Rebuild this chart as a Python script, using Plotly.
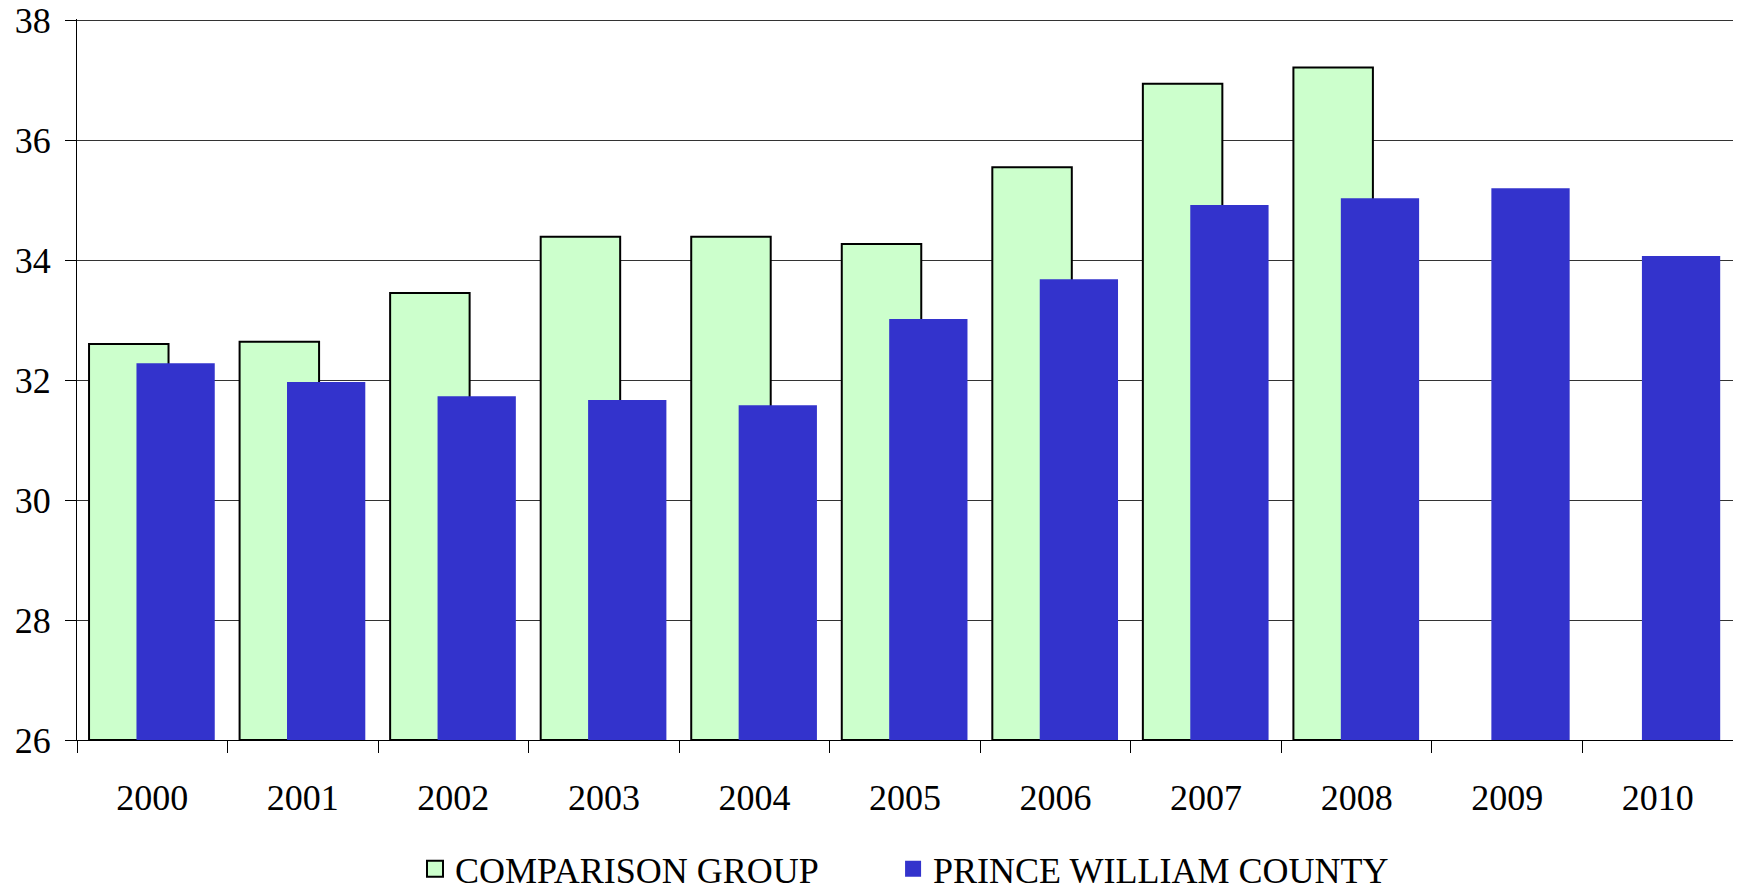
import plotly.graph_objects as go

years = ["2000", "2001", "2002", "2003", "2004", "2005", "2006", "2007", "2008", "2009", "2010"]
comparison_group = [32.6, 32.64, 33.45, 34.39, 34.39, 34.27, 35.55, 36.94, 37.21, None, None]
prince_william = [32.28, 31.97, 31.73, 31.67, 31.58, 33.02, 33.68, 34.92, 35.03, 35.2, 34.07]
series_names = ["COMPARISON GROUP", "PRINCE WILLIAM COUNTY"]
y_base = 26

FONT = "Liberation Serif"
GREEN = "#CCFFCC"
BLUE = "#3333CC"

fig = go.Figure()
fig.add_trace(go.Bar(
    name=series_names[0],
    x=years, y=[None if v is None else v - y_base for v in comparison_group],
    base=y_base,
    offset=-0.42, width=0.528,
    marker=dict(color=GREEN, line=dict(color="#000000", width=2)),
    showlegend=False,
))
fig.add_trace(go.Bar(
    name=series_names[1],
    x=years, y=[v - y_base for v in prince_william],
    base=y_base,
    offset=-0.105, width=0.52,
    marker=dict(color=BLUE, line=dict(width=0)),
    showlegend=False,
))
# legend entries (larger square symbols)
fig.add_trace(go.Scatter(
    name=series_names[0], x=[None], y=[None], mode="markers",
    marker=dict(symbol="square", size=16, color=GREEN, line=dict(color="black", width=2)),
    legend="legend",
))
fig.add_trace(go.Scatter(
    name=series_names[1], x=[None], y=[None], mode="markers",
    marker=dict(symbol="square", size=16, color=BLUE, line=dict(width=0)),
    legend="legend2",
))

legend_common = dict(
    orientation="h", xanchor="left", y=-0.1786, yanchor="middle",
    font=dict(family=FONT, size=36, color="black"),
    itemsizing="trace", bgcolor="rgba(0,0,0,0)",
)

fig.update_layout(
    width=1733, height=877,
    barmode="overlay",
    plot_bgcolor="white", paper_bgcolor="white",
    margin=dict(l=69, r=8, t=11, b=145, autoexpand=False),
    font=dict(family=FONT, size=36, color="black"),
    showlegend=True,
    legend=dict(x=0.2041, **legend_common),
    legend2=dict(x=0.4928, **legend_common),
)
fig.update_xaxes(
    type="category",
    showline=True, linecolor="black", linewidth=1,
    ticks="outside", tickson="boundaries", ticklen=12, tickcolor="black", tickwidth=1,
    showgrid=False,
    tickfont=dict(family=FONT, size=36, color="black"),
    ticklabelstandoff=26,
)
fig.update_yaxes(
    range=[26, 38.02], tickvals=[26, 28, 30, 32, 34, 36, 38],
    showline=True, linecolor="black", linewidth=1,
    ticks="outside", ticklen=11, tickcolor="black", tickwidth=1,
    showgrid=True, gridcolor="#333333", gridwidth=1,
    zeroline=False,
    tickfont=dict(family=FONT, size=36, color="black"),
    ticklabelstandoff=7,
    ticklabeloverflow="allow",
)

fig.write_html("out.html")
